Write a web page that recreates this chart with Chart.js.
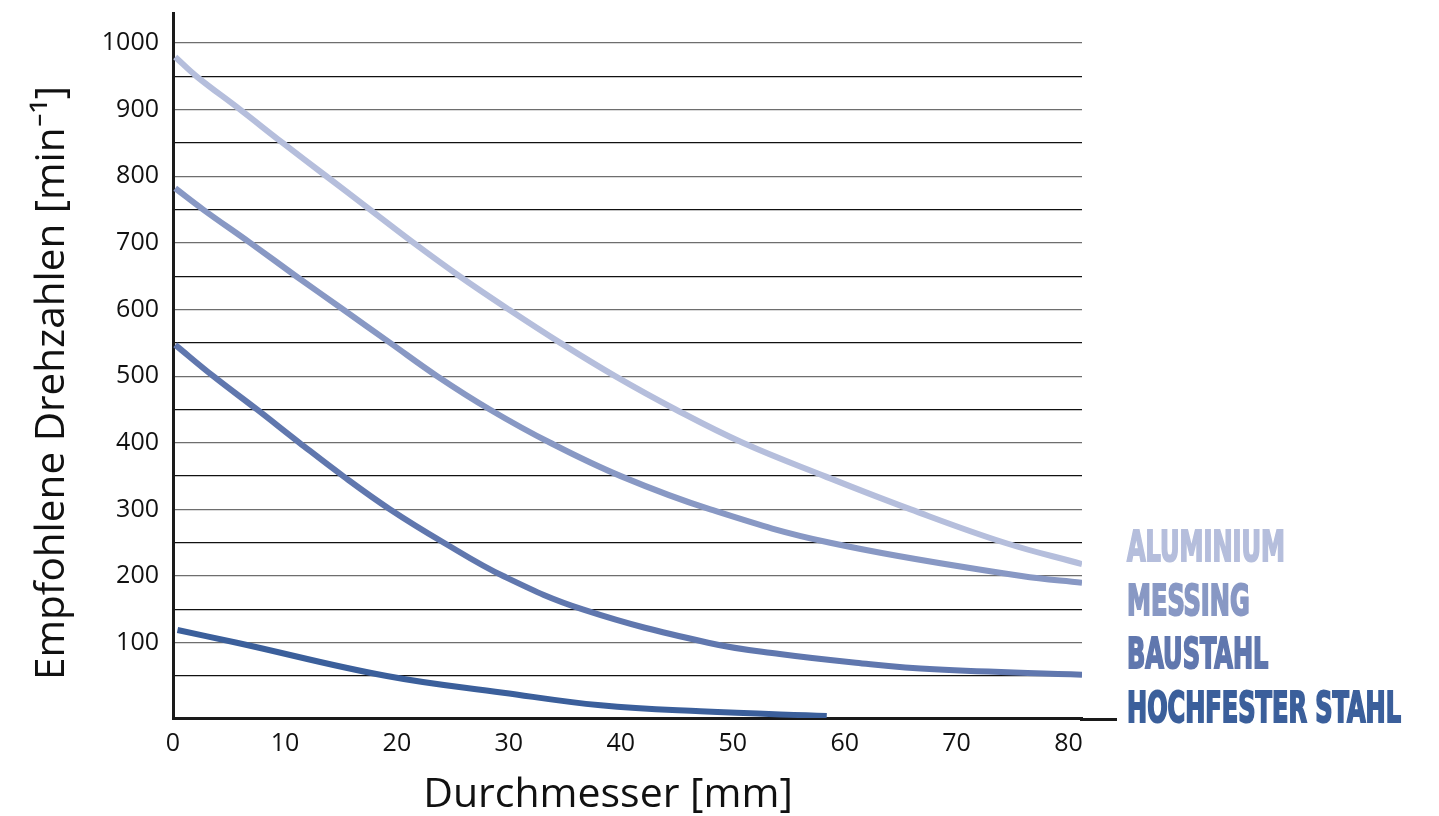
<!DOCTYPE html>
<html><head><meta charset="utf-8">
<script src="https://cdn.jsdelivr.net/npm/chart.js@4.4.1/dist/chart.umd.min.js"></script>
<style>html,body{margin:0;padding:0;background:#fff;overflow:hidden}#wrap{position:relative;width:1439px;height:816px}</style>
</head><body><div id="wrap"><canvas id="c" width="1439" height="816"></canvas></div>
<script>
const xTickValues = [0, 10, 20, 30, 40, 50, 60, 70, 80];
const yGridValues = [50,100,150,200,250,300,350,400,450,500,550,600,650,700,750,800,850,900,950,1000];
const seriesNames = ['ALUMINIUM', 'MESSING', 'BAUSTAHL', 'HOCHFESTER STAHL'];
const seriesColors = ['#b5bedc', '#8898c4', '#6077ae', '#3b5f9b'];
const xTitle = 'Durchmesser [mm]';
const yTitle = 'Empfohlene Drehzahlen [min⁻¹]';

const aluminiumX = [0.2, 2.1, 6, 9.8, 13.7, 17.6, 21.5, 25.6, 30.0, 34.6, 39.5, 44.9, 50.9, 58.2, 65.9, 74.3, 81.2];
const aluminiumY = [979, 950, 900, 850, 800, 750, 700, 650, 600, 550, 500, 450, 400, 350, 300, 250, 218];

const messingX = [0.2, 2.7, 6.9, 11, 15.2, 19.4, 23.6, 28.3, 33.7, 40, 48, 58.7, 75.8, 81.2];
const messingY = [782, 750, 700, 650, 600, 550, 500, 450, 400, 350, 300, 250, 200, 190];

const baustahlX = [0.2, 3.6, 7.5, 11.3, 15.2, 19.4, 24.2, 29.5, 36.6, 47.8, 54.2, 61, 68, 81.2];
const baustahlY = [547, 500, 450, 400, 350, 300, 250, 200, 150, 100, 83, 70, 60, 52];

const hochfestX = [0.4, 5.7, 19.1, 29.5, 38.2, 47.1, 58.4];
const hochfestY = [119, 100, 50, 25, 6, -3, -10];

const xs = [aluminiumX, messingX, baustahlX, hochfestX];
const ys = [aluminiumY, messingY, baustahlY, hochfestY];

const datasets = seriesNames.map((n, i) => ({
  label: n,
  data: xs[i].map((x, k) => ({x: x, y: ys[i][k]})),
  borderColor: seriesColors[i],
  borderWidth: 6,
  pointRadius: 0,
  fill: false,
  tension: 0.4,
  borderCapStyle: 'butt'
}));

const tickFont = {family: '"Open Sans", sans-serif', size: 25};

const extrasPlugin = {
  id: 'extras',
  afterDraw(chart) {
    const ctx = chart.ctx, a = chart.chartArea;
    ctx.save();
    // extend x axis line beyond the plotted range
    ctx.strokeStyle = '#1a1a1a';
    ctx.lineWidth = 3;
    ctx.beginPath();
    ctx.moveTo(a.right - 2, a.bottom + 1.5);
    ctx.lineTo(a.right + 35, a.bottom + 1.5);
    ctx.stroke();
    // axis titles
    ctx.fillStyle = '#111';
    ctx.textAlign = 'center';
    ctx.textBaseline = 'middle';
    ctx.font = '41px "Open Sans", sans-serif';
    ctx.fillText(xTitle, 608, 795);
    ctx.save();
    ctx.translate(52, 383);
    ctx.rotate(-Math.PI / 2);
    ctx.font = '40.5px "Open Sans", sans-serif';
    ctx.fillText(yTitle, 0, 0);
    ctx.restore();
    // material labels
    ctx.textAlign = 'left';
    ctx.textBaseline = 'alphabetic';
    ctx.font = 'bold 42px "Liberation Sans Narrow", "DejaVu Sans Condensed", sans-serif';
    const w = ctx.measureText(seriesNames[3]).width;
    const sx = 274 / w;
    seriesNames.forEach((n, i) => {
      ctx.save();
      ctx.translate(a.right + 45, a.bottom + 4 - (3 - i) * 53.7);
      ctx.scale(sx, 1);
      ctx.fillStyle = seriesColors[i];
      ctx.strokeStyle = seriesColors[i];
      ctx.lineWidth = 2;
      ctx.lineJoin = 'miter';
      ctx.fillText(n, 0, 0);
      ctx.strokeText(n, 0, 0);
      ctx.restore();
    });
    ctx.restore();
  }
};

new Chart(document.getElementById('c'), {
  type: 'line',
  data: {datasets},
  options: {
    responsive: false,
    animation: false,
    events: [],
    layout: {padding: {top: 13, right: 357, left: 0, bottom: 0}},
    plugins: {legend: {display: false}, tooltip: {enabled: false}},
    scales: {
      x: {
        type: 'linear', min: 0, max: 81.2,
        afterBuildTicks: ax => { ax.ticks = xTickValues.map(v => ({value: v})); },
        afterFit: sc => { sc.height = 98; sc.paddingLeft = 0; sc.paddingRight = 0; },
        grid: {display: false, drawTicks: false},
        border: {display: true, color: '#1a1a1a', width: 3},
        ticks: {font: tickFont, color: '#111', padding: 11, maxRotation: 0, autoSkip: false}
      },
      y: {
        type: 'linear', min: -13, max: 1045,
        afterBuildTicks: ax => { ax.ticks = yGridValues.map(v => ({value: v})); },
        afterFit: sc => { sc.width = 173; sc.paddingTop = 0; sc.paddingBottom = 0; },
        grid: {drawTicks: false, lineWidth: 1.3,
          color: c => (c.tick && c.tick.value % 100 === 0) ? '#6e6e6e' : '#111'},
        border: {display: true, color: '#1a1a1a', width: 3},
        ticks: {font: tickFont, color: '#111', padding: 14,
          callback: v => (v % 100 === 0 ? String(v) : '')}
      }
    }
  },
  plugins: [extrasPlugin]
});
</script>
</body></html>
